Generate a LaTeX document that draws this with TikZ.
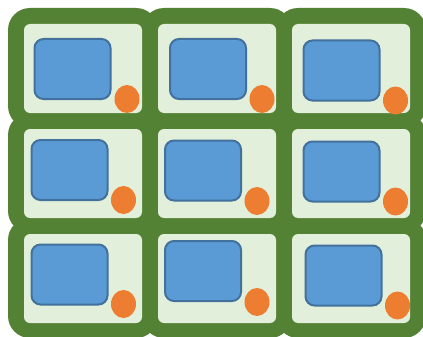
\documentclass[tikz,border=0pt]{standalone}
\usepackage{xcolor}
\usepackage{tikz}
\usetikzlibrary{shapes.geometric}
\definecolor{tilegreen}{HTML}{548235}
\definecolor{padgreen}{HTML}{E2EFDA}
\definecolor{boxblue}{HTML}{5B9BD5}
\definecolor{boxedge}{HTML}{41719C}
\definecolor{dotorange}{HTML}{ED7D31}
\tikzset{
    tile/.style={rectangle, rounded corners=22pt, fill=tilegreen,
        minimum width=150pt, minimum height=120pt, inner sep=0pt},
    pad/.style={rectangle, rounded corners=6pt, fill=padgreen,
        minimum width=118pt, minimum height=89pt, inner sep=0pt},
    screen/.style={rectangle, rounded corners=9pt, draw=boxedge, line width=2pt,
        fill=boxblue, minimum width=76pt, minimum height=60pt, inner sep=0pt},
    knob/.style={ellipse, fill=dotorange, minimum width=25pt,
        minimum height=28pt, inner sep=0pt}
}

\begin{document}
\begin{tikzpicture}[x=1pt, y=-1pt]
        \useasboundingbox (0,0) rectangle (423,337);
        \clip (0,0) rectangle (423,337);
        % green tiles
        \foreach \r in {0,1,2}
            \foreach \c in {0,1,2}
                \node[tile] (tile-\r-\c) at (83+134*\c, 68+105*\r) {};
        % light pads
        \foreach \r in {0,1,2}
            \foreach \c in {0,1,2}
                \node[pad] (pad-\r-\c) at (83+134*\c, 68.5+105*\r) {};
        % screens and knobs
        \foreach \n/\bx/\by/\kx/\ky in {
            11/72.5/69/127/99, 12/208/69/262/99, 13/341.5/70.5/395.5/100.5,
            21/69.5/170/123.5/200, 22/203/170.5/257/201, 23/341.5/171.5/395.5/201.5,
            31/69.5/274.5/123.5/304, 32/203/271/257/302, 33/343.5/275.5/397.5/305.5}
        {
            \node[screen] (screen\n) at (\bx,\by) {};
            \node[knob] (knob\n) at (\kx,\ky) {};
        }
    \end{tikzpicture}
\end{document}
